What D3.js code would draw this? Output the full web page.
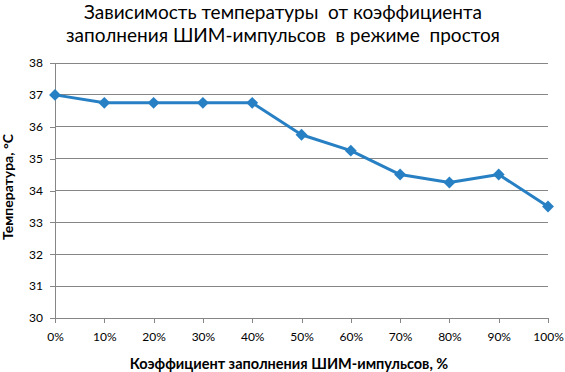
<!DOCTYPE html>
<html>
<head>
<meta charset="utf-8">
<script src="https://cdn.jsdelivr.net/npm/d3@7"></script>
<style>
  body { margin: 0; background: #fff; }
  svg { display: block; font-family: Lato, "Open Sans", sans-serif; }
</style>
</head>
<body>
<svg id="chart" width="565" height="372"></svg>
<script>
var fill = [0, 10, 20, 30, 40, 50, 60, 70, 80, 90, 100]
var temps = [37, 36.75, 36.75, 36.75, 36.75, 35.75, 35.25, 34.5, 34.25, 34.5, 33.5]
var yTicks = [30, 31, 32, 33, 34, 35, 36, 37, 38]
var titleLines = ['Зависимость температуры  от коэффициента', 'заполнения ШИМ-импульсов  в режиме  простоя']

var w = 565
var h = 372
var m = {top: 63, right: 17, bottom: 54, left: 55}

var svg = d3.select('#chart')

var x = d3.scaleLinear().domain([0, 100]).range([m.left, w - m.right])
var y = d3.scaleLinear().domain([30, 38]).range([h - m.bottom, m.top])

var blue = '#2880c4'
var grey = '#868686'

// gridlines
svg.append('g')
    .selectAll('line')
    .data(yTicks.filter(d => d > 30))
    .join('line')
    .attr('x1', x(0)).attr('x2', x(100))
    .attr('y1', d => y(d)).attr('y2', d => y(d))
    .attr('stroke', grey)
    .attr('shape-rendering', 'crispEdges')

var yAxis = svg.append('g')
    .attr('transform', `translate(${x(0)},0)`)
    .call(d3.axisLeft(y).tickValues(yTicks).tickSize(5).tickPadding(7))
var xAxis = svg.append('g')
    .attr('transform', `translate(0,${y(30)})`)
    .call(d3.axisBottom(x).tickValues(fill).tickSize(5).tickPadding(9).tickFormat(d => d + '%'))

;[yAxis, xAxis].forEach(a => {
  a.select('.domain').attr('stroke', grey).attr('shape-rendering', 'crispEdges')
  a.selectAll('.tick line').attr('stroke', grey).attr('shape-rendering', 'crispEdges')
  a.selectAll('text').attr('fill', '#000').style('font-size', '12px').style('font-family', 'Lato, sans-serif')
})

var pts = fill.map((f, i) => [f, temps[i]])

svg.append('path')
    .datum(pts)
    .attr('fill', 'none')
    .attr('stroke', blue)
    .attr('stroke-width', 3)
    .attr('stroke-linejoin', 'round')
    .attr('d', d3.line().x(d => x(d[0])).y(d => y(d[1])))

svg.append('g')
    .selectAll('path')
    .data(pts)
    .join('path')
    .attr('transform', d => `translate(${x(d[0])},${y(d[1])})`)
    .attr('d', d3.symbol(d3.symbolDiamond2, 90))
    .attr('fill', blue)

// titles
svg.append('text')
    .attr('x', 283)
    .attr('y', 19)
    .attr('text-anchor', 'middle')
    .style('font-size', '19px')
    .selectAll('tspan')
    .data(titleLines)
    .join('tspan')
    .attr('x', 283)
    .attr('dy', (d, i) => i ? 23 : 0)
    .attr('xml:space', 'preserve')
    .text(d => d)

svg.append('text')
    .attr('x', 289)
    .attr('y', 369)
    .attr('text-anchor', 'middle')
    .style('font-size', '14.5px')
    .style('font-weight', 'bold')
    .text('Коэффициент заполнения ШИМ-импульсов, %')

svg.append('text')
    .attr('transform', 'translate(13,187) rotate(-90)')
    .attr('text-anchor', 'middle')
    .style('font-size', '14px')
    .style('font-weight', 'bold')
    .text('Температура, °С')
</script>
</body>
</html>
